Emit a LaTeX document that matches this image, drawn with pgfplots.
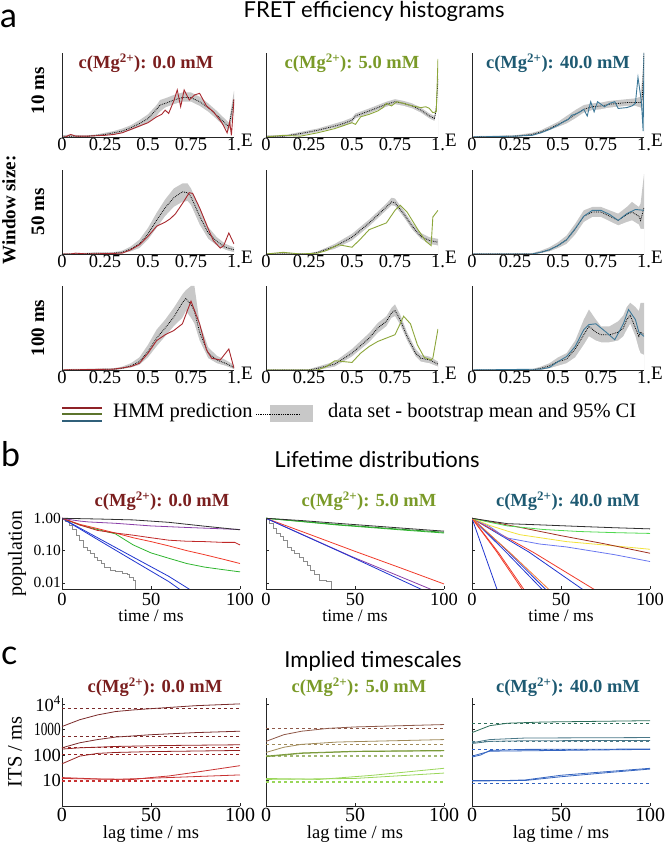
\documentclass[border=0pt]{standalone}
\usepackage{fontspec}
\setmainfont{Liberation Serif}
\newfontfamily\sansf{Lato}
\usepackage{graphicx}
\usepackage{pgfplots}
\pgfplotsset{compat=1.18}
\usepackage{pgfplotstable}

\definecolor{tRed}{HTML}{7A1E1E}
\definecolor{tGreen}{HTML}{7A9A28}
\definecolor{tBlue}{HTML}{1E5A72}
\definecolor{hRed}{HTML}{A8282E}
\definecolor{hGreen}{HTML}{8CA63A}
\definecolor{hBlue}{HTML}{3C7898}
\definecolor{bandgray}{HTML}{C8C8C8}
\definecolor{lBlack}{HTML}{303030}
\definecolor{lPurple}{HTML}{8A3FA8}
\definecolor{lDRed}{HTML}{C02828}
\definecolor{lRed}{HTML}{F03A2A}
\definecolor{lGreen}{HTML}{2FB52F}
\definecolor{lBlue}{HTML}{2035D0}
\definecolor{lGray}{HTML}{8C8C8C}
\definecolor{lYellow}{HTML}{F2E23A}
\definecolor{lPeri}{HTML}{6A78F0}
\definecolor{lOrange}{HTML}{F57A30}
\definecolor{lBrown}{HTML}{A03020}
\definecolor{lLGreen}{HTML}{50D850}
\definecolor{iDRed}{HTML}{7A2A2A}
\definecolor{iRed}{HTML}{C83232}
\definecolor{iBrown}{HTML}{8E5848}
\definecolor{iTan}{HTML}{A08A5A}
\definecolor{iOlive}{HTML}{7A9A3A}
\definecolor{iLGreen}{HTML}{9AD65A}
\definecolor{iTeal}{HTML}{2E6E5A}
\definecolor{iSlate}{HTML}{4A7888}
\definecolor{iBlue}{HTML}{3464C0}

\newcommand\tickfont{\fontsize{18.5}{20}\selectfont}
\newcommand\ttlfont{\fontsize{18.5}{20}\selectfont\bfseries}
\newcommand\secfont{\sansf\fontsize{22}{24}\selectfont}
\newcommand\letfont{\sansf\fontsize{34}{34}\selectfont}

% ---------- histogram data: bootstrap mean and 95% CI ----------
\pgfplotstableread{
E m lo hi
0 0.01 0 0.02
0.05 0.01 0 0.03
0.1 0.01 0 0.02
0.15 0.01 0 0.02
0.2 0.02 0.01 0.03
0.25 0.03 0.02 0.05
0.3 0.05 0.03 0.07
0.35 0.07 0.05 0.10
0.4 0.11 0.08 0.14
0.45 0.16 0.12 0.20
0.5 0.22 0.17 0.27
0.55 0.33 0.25 0.38
0.57 0.38 0.30 0.44
0.6 0.40 0.35 0.46
0.65 0.44 0.39 0.50
0.7 0.47 0.42 0.53
0.75 0.47 0.42 0.53
0.8 0.42 0.37 0.48
0.85 0.35 0.30 0.40
0.9 0.26 0.21 0.31
0.95 0.16 0.11 0.21
0.97 0.12 0.07 0.17
1.0 0.45 0.30 0.55
}\mAA
\pgfplotstableread{
E m lo hi
0 0.01 0 0.02
0.1 0.01 0 0.02
0.2 0.04 0.02 0.06
0.3 0.08 0.06 0.10
0.4 0.13 0.11 0.16
0.45 0.16 0.13 0.19
0.5 0.20 0.17 0.23
0.52 0.25 0.22 0.28
0.6 0.31 0.28 0.34
0.7 0.39 0.36 0.42
0.75 0.42 0.39 0.45
0.8 0.40 0.37 0.43
0.85 0.37 0.34 0.40
0.9 0.32 0.29 0.35
0.95 0.25 0.22 0.28
0.98 0.22 0.19 0.25
0.99 0.35 0.32 0.38
1.0 0.70 0.66 0.74
}\mAB
\pgfplotstableread{
E m lo hi
0 0 0 0.01
0.25 0.01 0 0.02
0.35 0.03 0.02 0.05
0.4 0.06 0.04 0.08
0.45 0.10 0.08 0.13
0.5 0.15 0.12 0.18
0.55 0.20 0.16 0.25
0.6 0.27 0.22 0.32
0.65 0.33 0.29 0.38
0.7 0.36 0.32 0.40
0.75 0.37 0.33 0.41
0.8 0.39 0.35 0.43
0.85 0.40 0.36 0.44
0.9 0.41 0.37 0.45
0.95 0.41 0.37 0.46
0.98 0.41 0.35 0.48
0.99 0.45 0.30 0.70
1.0 1.00 0.90 1.00
}\mAC
\pgfplotstableread{
E m lo hi
0 0 0 0.01
0.1 0 0 0.01
0.2 0.01 0 0.02
0.3 0.01 0 0.02
0.35 0.02 0.01 0.04
0.4 0.06 0.03 0.09
0.45 0.12 0.07 0.17
0.5 0.24 0.17 0.31
0.55 0.40 0.31 0.49
0.6 0.55 0.45 0.65
0.65 0.67 0.56 0.78
0.7 0.74 0.62 0.84
0.73 0.73 0.63 0.84
0.75 0.68 0.58 0.78
0.8 0.45 0.35 0.55
0.85 0.25 0.18 0.32
0.9 0.15 0.10 0.20
0.95 0.08 0.05 0.12
1.0 0.05 0.02 0.08
}\mBA
\pgfplotstableread{
E m lo hi
0 0 0 0.01
0.25 0 0 0.01
0.3 0.02 0.01 0.03
0.4 0.09 0.06 0.12
0.5 0.20 0.16 0.24
0.6 0.37 0.33 0.41
0.7 0.56 0.52 0.60
0.73 0.62 0.58 0.67
0.75 0.61 0.57 0.66
0.8 0.48 0.44 0.52
0.85 0.33 0.29 0.37
0.9 0.21 0.18 0.25
0.95 0.16 0.12 0.20
1.0 0.14 0.10 0.18
}\mBB
\pgfplotstableread{
E m lo hi
0 0 0 0.01
0.35 0 0 0.01
0.4 0.02 0.01 0.04
0.45 0.05 0.03 0.08
0.5 0.10 0.07 0.14
0.55 0.17 0.12 0.22
0.6 0.30 0.23 0.36
0.65 0.45 0.38 0.52
0.7 0.50 0.44 0.56
0.75 0.50 0.44 0.56
0.8 0.45 0.39 0.52
0.85 0.40 0.34 0.48
0.9 0.47 0.38 0.56
0.93 0.50 0.40 0.62
0.97 0.45 0.35 0.56
0.98 0.40 0.30 0.60
1.0 0.55 0.30 0.95
}\mBC
\pgfplotstableread{
E m lo hi
0 0 0 0.01
0.3 0.01 0 0.02
0.35 0.02 0.01 0.04
0.4 0.05 0.03 0.08
0.45 0.10 0.06 0.15
0.5 0.22 0.15 0.30
0.55 0.38 0.28 0.48
0.6 0.50 0.40 0.60
0.65 0.63 0.52 0.74
0.7 0.80 0.62 0.90
0.72 0.85 0.70 0.95
0.75 0.78 0.62 1.00
0.77 0.70 0.55 1.00
0.8 0.45 0.35 0.56
0.85 0.20 0.14 0.27
0.9 0.12 0.08 0.17
0.95 0.08 0.05 0.12
1.0 0.03 0.01 0.06
}\mCA
\pgfplotstableread{
E m lo hi
0 0 0 0.01
0.25 0 0 0.01
0.3 0.02 0 0.04
0.4 0.07 0.04 0.10
0.5 0.20 0.16 0.25
0.6 0.38 0.33 0.44
0.65 0.50 0.44 0.56
0.7 0.58 0.52 0.64
0.73 0.68 0.62 0.74
0.75 0.71 0.64 0.78
0.78 0.60 0.54 0.66
0.82 0.40 0.35 0.45
0.87 0.20 0.16 0.25
0.9 0.14 0.10 0.18
0.95 0.12 0.08 0.16
1.0 0.07 0.04 0.10
}\mCB
\pgfplotstableread{
E m lo hi
0 0 0 0.01
0.35 0 0 0.01
0.4 0.02 0 0.04
0.45 0.05 0.02 0.08
0.5 0.10 0.05 0.15
0.55 0.13 0.08 0.20
0.6 0.25 0.15 0.35
0.65 0.42 0.30 0.60
0.68 0.52 0.40 0.72
0.72 0.45 0.35 0.60
0.75 0.42 0.33 0.52
0.8 0.42 0.33 0.52
0.85 0.45 0.35 0.58
0.88 0.50 0.40 0.65
0.9 0.60 0.48 0.75
0.92 0.65 0.55 0.80
0.95 0.50 0.40 0.75
0.97 0.40 0.25 0.70
0.98 0.45 0.20 0.80
1.0 0.42 0.18 0.80
}\mCC

% ---------- HMM predictions ----------
\pgfplotstableread{
E y
0 0
0.02 0.0
0.05 0.03
0.08 0.01
0.15 0.01
0.25 0.02
0.3 0.03
0.35 0.05
0.4 0.09
0.45 0.13
0.5 0.17
0.55 0.24
0.58 0.27
0.6 0.32
0.62 0.28
0.65 0.43
0.67 0.56
0.69 0.36
0.71 0.56
0.74 0.44
0.77 0.50
0.8 0.52
0.84 0.37
0.88 0.30
0.93 0.17
0.96 0.05
0.975 0.18
0.985 0.02
1.0 0.45
}\hAA
\pgfplotstableread{
E y
0 0
0.05 0.01
0.1 0.02
0.2 0.01
0.3 0.05
0.4 0.10
0.5 0.17
0.52 0.15
0.55 0.24
0.6 0.27
0.65 0.31
0.68 0.35
0.7 0.40
0.73 0.37
0.76 0.42
0.8 0.40
0.85 0.37
0.9 0.35
0.93 0.36
0.95 0.34
0.97 0.29
0.99 0.30
1.0 0.93
}\hAB
\pgfplotstableread{
E y
0 0
0.25 0.01
0.35 0.02
0.4 0.05
0.45 0.09
0.5 0.14
0.53 0.18
0.56 0.21
0.58 0.26
0.6 0.27
0.63 0.30
0.65 0.33
0.67 0.25
0.69 0.42
0.71 0.30
0.73 0.42
0.77 0.36
0.8 0.40
0.83 0.42
0.85 0.34
0.9 0.35
0.93 0.37
0.95 0.40
0.965 0.71
0.985 0.42
0.995 0.07
1.0 1.0
}\hAC
\pgfplotstableread{
E y
0 0
0.05 0
0.08 0.01
0.15 0
0.35 0.01
0.4 0.05
0.45 0.11
0.5 0.21
0.55 0.33
0.6 0.38
0.63 0.42
0.66 0.48
0.7 0.60
0.74 0.73
0.76 0.72
0.8 0.55
0.85 0.30
0.88 0.16
0.92 0.07
0.94 0.10
0.97 0.25
1.0 0.12
}\hBA
\pgfplotstableread{
E y
0 0
0.05 0.01
0.1 0.02
0.2 0
0.3 0.01
0.35 0.04
0.42 0.11
0.45 0.10
0.5 0.08
0.55 0.18
0.6 0.29
0.65 0.33
0.7 0.37
0.75 0.52
0.78 0.58
0.82 0.50
0.88 0.30
0.93 0.15
0.96 0.10
0.97 0.44
1.0 0.52
}\hBB
\pgfplotstableread{
E y
0 0
0.35 0
0.4 0.02
0.45 0.05
0.5 0.10
0.55 0.17
0.6 0.30
0.65 0.45
0.7 0.52
0.75 0.52
0.8 0.47
0.85 0.40
0.9 0.48
0.95 0.53
1.0 0.52
}\hBC
\pgfplotstableread{
E y
0 0
0.3 0.01
0.4 0.04
0.45 0.08
0.5 0.20
0.55 0.35
0.6 0.42
0.65 0.47
0.7 0.55
0.75 0.82
0.8 0.55
0.84 0.24
0.87 0.14
0.92 0.12
0.97 0.25
1.0 0.02
}\hCA
\pgfplotstableread{
E y
0 0
0.3 0
0.35 0.04
0.4 0.11
0.45 0.10
0.5 0.09
0.55 0.20
0.6 0.28
0.65 0.34
0.7 0.38
0.75 0.42
0.78 0.55
0.8 0.64
0.84 0.55
0.88 0.30
0.92 0.15
0.96 0.12
0.97 0.14
1.0 0.49
}\hCB
\pgfplotstableread{
E y
0 0
0.4 0.01
0.45 0.03
0.5 0.10
0.55 0.16
0.6 0.28
0.65 0.48
0.68 0.54
0.72 0.55
0.78 0.45
0.83 0.36
0.88 0.55
0.91 0.72
0.95 0.60
0.97 0.45
1.0 0.40
}\hCC

\pgfplotsset{
  /pgf/number format/assume math mode=true,
  base/.style={scale only axis, axis x line*=bottom, axis y line*=left,
    axis line style={line width=0.6pt, black!85},
    every tick/.style={black!85, line width=0.5pt},
    tick label style={font=\tickfont}},
  histax/.style={base, axis on top, width=172pt, height=84pt, xmin=0, xmax=1, ymin=0, ymax=1,
    ytick=\empty, xtick={0,0.25,0.5,0.75,1},
    xticklabels={\textrm{0},\textrm{0.25},\textrm{0.5},\textrm{0.75},\textrm{1.}},
    major tick length=0pt,
    xticklabel style={inner sep=0pt, yshift=-1.5pt},
    xlabel={E}, xlabel style={at={(1,0)}, anchor=west,
      font=\fontsize{19}{20}\selectfont, xshift=6pt, yshift=-3pt, inner sep=1pt}},
  lifeax/.style={base, width=178pt, height=71pt, xmin=0, xmax=100,
    ymin=0.0065, ymax=1.02,
    xtick={0,50,100}, xticklabels={\textrm{0},\textrm{50},\textrm{100}},
    ytick={0.01,0.1,1}, yticklabels={},
    tick align=inside, major tick length=3pt,
    xticklabel style={inner sep=0pt, yshift=-4pt, font=\fontsize{18.5}{20}\selectfont},
    xlabel={time / ms}, xlabel style={font=\fontsize{17.5}{18}\selectfont, inner sep=0pt, yshift=-4.5pt}},
  itsax/.style={base, width=178pt, height=108pt, xmin=0, xmax=100,
    ymin=1, ymax=17000,
    xtick={0,50,100}, xticklabels={\textrm{0},\textrm{50},\textrm{100}},
    ytick={10,100,1000,10000}, yticklabels={},
    tick align=inside, major tick length=3pt,
    xticklabel style={inner sep=0pt, yshift=-2pt, font=\fontsize{20}{21}\selectfont},
    xlabel={lag time / ms}, xlabel style={font=\fontsize{18.5}{19}\selectfont, inner sep=0pt, yshift=-4pt}},
  hmm/.style={line width=0.9pt},
  lt/.style={line width=0.8pt},
}

% #1 position, #2 mean/CI table, #3 HMM table, #4 colour
\newcommand\hist[4]{%
\begin{axis}[histax, at={(#1)}, anchor=south west]
\addplot[fill=bandgray, draw=none] table[x=E, y=hi] {#2} \closedcycle;
\addplot[fill=white, draw=none] table[x=E, y=lo] {#2} \closedcycle;
\addplot[black, densely dotted, line width=0.8pt] table[x=E, y=m] {#2};
\addplot[#4, hmm] table[x=E, y=y] {#3};
\end{axis}}

\begin{document}
\begin{tikzpicture}[x=1pt, y=1pt]
\path[use as bounding box] (0,0) rectangle (666,846);

% section headers
\node[anchor=base west, inner sep=0pt, font=\letfont] at (0,818) {a};
\node[anchor=base, inner sep=0pt, font=\secfont] at (374,828) {FRET efficiency histograms};
\node[anchor=base west, inner sep=0pt, font=\letfont] at (1,379) {b};
\node[anchor=base, inner sep=0pt, font=\secfont] at (377,378) {Lifetime distributions};
\node[anchor=base west, inner sep=0pt, font=\letfont] at (1,181) {c};
\node[anchor=base, inner sep=0pt, font=\secfont] at (373,178) {Implied timescales};

% row labels
\node[rotate=90, font=\fontsize{19}{20}\selectfont\bfseries] at (9,636) {Window size:};
\node[rotate=90, font=\fontsize{19}{20}\selectfont\bfseries] at (38,755) {10 ms};
\node[rotate=90, font=\fontsize{19}{20}\selectfont\bfseries] at (38,634) {50 ms};
\node[rotate=90, font=\fontsize{19}{20}\selectfont\bfseries] at (38,518) {100 ms};

% ---------- a: histograms ----------
\hist{62pt,709pt}{\mAA}{\hAA}{hRed}
\hist{266pt,709pt}{\mAB}{\hAB}{hGreen}
\hist{472pt,709pt}{\mAC}{\hAC}{hBlue}
\hist{62pt,592pt}{\mBA}{\hBA}{hRed}
\hist{266pt,592pt}{\mBB}{\hBB}{hGreen}
\hist{472pt,592pt}{\mBC}{\hBC}{hBlue}
\hist{62pt,476pt}{\mCA}{\hCA}{hRed}
\hist{266pt,476pt}{\mCB}{\hCB}{hGreen}
\hist{472pt,476pt}{\mCC}{\hCC}{hBlue}

% panel titles
\foreach \yy/\xa/\xb/\xc in {777/146/352/558, 339/162/369/568, 153/155/359/568}{
  \node[anchor=base, inner sep=0pt, font=\ttlfont, text=tRed] at (\xa,\yy) {c(Mg\textsuperscript{2+}): 0.0 mM};
  \node[anchor=base, inner sep=0pt, font=\ttlfont, text=tGreen] at (\xb,\yy) {c(Mg\textsuperscript{2+}): 5.0 mM};
  \node[anchor=base, inner sep=0pt, font=\ttlfont, text=tBlue] at (\xc,\yy) {c(Mg\textsuperscript{2+}): 40.0 mM};
}

% legend
\draw[hRed!85!black, line width=1.8pt] (62,438) -- (102,438);
\draw[iOlive!75!black, line width=1.8pt] (62,432) -- (102,432);
\draw[hBlue!80!black, line width=1.8pt] (62,425) -- (102,425);
\node[anchor=west, inner sep=0pt, font=\fontsize{20.5}{21}\selectfont] at (113,433) {HMM prediction};
\fill[bandgray] (270,424) rectangle (313,441);
\draw[black, densely dotted, line width=0.8pt] (256,432) -- (300,432);
\node[anchor=west, inner sep=0pt, font=\fontsize{20.5}{21}\selectfont] at (328,433) {data set - bootstrap mean and 95\% CI};

% ---------- b: lifetime distributions ----------
\begin{axis}[lifeax, ymode=log, yminorticks=false, at={(62pt,257pt)}, anchor=south west,
  yticklabels={\textrm{0.01},\textrm{0.10},\textrm{1.00}}, yticklabel style={font=\fontsize{15.5}{16}\selectfont, inner sep=1pt},
  ylabel={population}, ylabel style={at={(-0.253,0.5)}, anchor=center, font=\fontsize{20}{21}\selectfont}]
\addplot[lGray, lt, const plot] coordinates {(0,1) (2,0.8) (4,0.6) (6,0.45) (8,0.3) (10,0.2) (12,0.13) (14,0.1) (16,0.08) (18,0.06) (20,0.05) (22,0.04) (24,0.03) (27,0.025) (30,0.022) (34,0.02) (37,0.019) (38,0.015) (40,0.012) (41,0.005)};
\addplot[lBlue, lt] coordinates {(0,1) (20,0.22) (40,0.049) (60,0.011) (70,0.0045)};
\addplot[lBlue, lt] coordinates {(0,1) (20,0.25) (40,0.063) (60,0.016) (76,0.0045)};
\addplot[lGreen, lt] coordinates {(0,1) (10,0.62) (20,0.45) (30,0.33) (40,0.15) (50,0.085) (60,0.058) (70,0.04) (80,0.031) (90,0.026) (100,0.022)};
\addplot[lRed, lt] coordinates {(0,1) (10,0.65) (20,0.48) (30,0.35) (40,0.25) (50,0.19) (60,0.14) (70,0.1) (80,0.075) (90,0.055) (100,0.04)};
\addplot[lDRed, lt] coordinates {(0,1) (5,0.8) (10,0.62) (20,0.42) (30,0.35) (40,0.3) (50,0.25) (60,0.21) (70,0.195) (80,0.19) (90,0.18) (97,0.18) (100,0.15)};
\addplot[lPurple, lt] coordinates {(0,1) (5,0.9) (10,0.82) (15,0.77) (30,0.7) (50,0.58) (70,0.52) (100,0.45)};
\addplot[lBlack, lt] coordinates {(0,1) (20,0.95) (40,0.89) (60,0.75) (80,0.57) (100,0.44)};
\end{axis}

\begin{axis}[lifeax, ymode=log, yminorticks=false, at={(266pt,257pt)}, anchor=south west]
\addplot[lGray, lt, const plot] coordinates {(0,1) (2,0.7) (4,0.5) (6,0.35) (8,0.27) (10,0.2) (12,0.13) (14,0.1) (16,0.08) (19,0.06) (21,0.045) (23,0.035) (25,0.025) (27,0.018) (30,0.012) (34,0.011) (36,0.011) (37,0.005)};
\addplot[lRed, lt] coordinates {(0,1) (25,0.31) (50,0.095) (75,0.03) (100,0.0093)};
\addplot[lPurple, lt] coordinates {(0,1) (48,0.066) (98,0.0048)};
\addplot[lBlue, lt] coordinates {(0,1) (45,0.076) (92,0.0048)};
\addplot[lGreen!80!black, lt] coordinates {(0,1) (20,0.8) (40,0.64) (60,0.53) (80,0.44) (100,0.37)};
\addplot[lGreen, lt] coordinates {(0,1) (20,0.79) (40,0.62) (60,0.51) (80,0.42) (100,0.35)};
\addplot[lBlack, lt] coordinates {(0,1) (20,0.85) (40,0.7) (60,0.58) (80,0.48) (100,0.4)};
\end{axis}

\begin{axis}[lifeax, ymode=log, yminorticks=false, at={(472pt,257pt)}, anchor=south west]
\addplot[lBlue, lt] coordinates {(0,1) (7,0.08) (15,0.0045)};
\addplot[lBlue, lt] coordinates {(0,1) (20,0.08) (42,0.0045)};
\addplot[lBlue, lt] coordinates {(0,1) (21,0.085) (44,0.0045)};
\addplot[lBlue, lt] coordinates {(0,1) (32,0.09) (66,0.0045)};
\addplot[lRed, lt] coordinates {(0,1) (15,0.085) (31,0.0045)};
\addplot[lRed, lt] coordinates {(0,1) (14,0.09) (30,0.0045)};
\addplot[lOrange, lt] coordinates {(0,1) (22,0.08) (46,0.0045)};
\addplot[lRed, lt] coordinates {(0,1) (35,0.085) (73,0.0045)};
\addplot[lPeri, lt] coordinates {(0,1) (10,0.55) (19,0.25) (38,0.16) (53,0.13) (80,0.075) (100,0.046)};
\addplot[lYellow, lt] coordinates {(0,1) (10,0.6) (20,0.4) (27,0.31) (53,0.19) (80,0.14) (100,0.11)};
\addplot[lBrown, lt] coordinates {(0,1) (25,0.55) (50,0.29) (75,0.16) (100,0.083)};
\addplot[lLGreen, lt] coordinates {(0,1) (10,0.75) (20,0.58) (40,0.45) (60,0.39) (80,0.36) (100,0.34)};
\addplot[lBlack, lt] coordinates {(0,1) (10,0.82) (20,0.68) (40,0.62) (60,0.56) (80,0.51) (100,0.47)};
\end{axis}

% ---------- c: implied timescales ----------
\begin{axis}[itsax, ymode=log, yminorticks=false, at={(62pt,40pt)}, anchor=south west,
  yticklabels={\textrm{10},\textrm{100},\scalebox{0.72}[1]{\textrm{1000}},\textrm{10\textsuperscript{4}}},
  yticklabel style={font=\fontsize{18.5}{20}\selectfont, inner sep=1pt},
  ylabel={ITS / ms}, ylabel style={at={(-0.264,0.5)}, anchor=center, font=\fontsize{20.5}{21}\selectfont}]
\addplot[iDRed, lt, dashed] coordinates {(0,6600) (100,6600)};
\addplot[iDRed, lt, dashed] coordinates {(0,520) (100,520)};
\addplot[iDRed!80!red, lt, dashed] coordinates {(0,200) (100,200)};
\addplot[iDRed!80!red, lt, dashed] coordinates {(0,108) (100,108)};
\addplot[iRed, lt, dashed] coordinates {(0,10.5) (100,10.5)};
\addplot[iRed, lt, dashed] coordinates {(0,9.5) (100,9.5)};
\addplot[iDRed, lt] coordinates {(0,1300) (10,2400) (20,3700) (30,5000) (40,5800) (50,6500) (75,8500) (100,10000)};
\addplot[iDRed, lt] coordinates {(0,190) (10,300) (20,400) (30,500) (50,620) (75,750) (100,850)};
\addplot[iDRed!80!red, lt] coordinates {(0,170) (10,190) (30,215) (60,235) (100,250)};
\addplot[iDRed!80!red, lt] coordinates {(0,45) (10,90) (20,115) (30,125) (50,135) (100,150)};
\addplot[iRed, lt] coordinates {(0,13) (20,11.5) (40,11) (50,13) (60,15) (75,21) (100,38)};
\addplot[iRed, lt] coordinates {(0,12) (30,11) (60,13) (100,16.5)};
\end{axis}

\begin{axis}[itsax, ymode=log, yminorticks=false, at={(266pt,40pt)}, anchor=south west]
\addplot[iBrown, lt, dashed] coordinates {(0,1070) (100,1070)};
\addplot[iTan, lt, dashed] coordinates {(0,270) (100,270)};
\addplot[iOlive!70!white, lt, dashed] coordinates {(0,93) (100,93)};
\addplot[iOlive!70!white, lt, dashed] coordinates {(0,85) (100,85)};
\addplot[iLGreen, lt, dashed] coordinates {(0,9) (100,9)};
\addplot[iLGreen, lt, dashed] coordinates {(0,8.3) (100,8.3)};
\addplot[iBrown, lt] coordinates {(0,340) (10,620) (20,850) (35,1100) (50,1250) (100,1550)};
\addplot[iTan, lt] coordinates {(0,125) (10,200) (20,260) (40,320) (100,400)};
\addplot[iOlive, lt] coordinates {(0,90) (20,120) (50,140) (100,150)};
\addplot[iOlive, lt] coordinates {(0,85) (20,115) (50,135) (100,145)};
\addplot[iLGreen, lt] coordinates {(0,12) (30,11) (60,16) (100,30)};
\addplot[iLGreen, lt] coordinates {(0,11) (50,12) (100,19.5)};
\end{axis}

\begin{axis}[itsax, ymode=log, yminorticks=false, at={(472pt,40pt)}, anchor=south west]
\addplot[iTeal, lt, dashed] coordinates {(0,1700) (100,1700)};
\addplot[iSlate, lt, dashed] coordinates {(0,350) (100,350)};
\addplot[iBlue, lt, dashed] coordinates {(0,160) (100,160)};
\addplot[iBlue, lt, dashed] coordinates {(0,7.4) (100,7.4)};
\addplot[iTeal, lt] coordinates {(0,750) (10,1400) (20,1750) (40,1950) (100,2200)};
\addplot[iSlate, lt] coordinates {(0,300) (10,400) (30,460) (100,480)};
\addplot[iSlate, lt] coordinates {(0,280) (10,340) (30,360) (100,370)};
\addplot[iBlue, lt] coordinates {(0,83) (5,100) (10,150) (30,165) (100,170)};
\addplot[iBlue, lt] coordinates {(0,90) (10,140) (100,165)};
\addplot[iBlue, lt] coordinates {(0,10) (20,10) (30,10.5) (50,16) (75,22) (100,30)};
\addplot[iBlue, lt] coordinates {(0,9.5) (30,10) (50,14) (75,20) (100,28)};
\end{axis}
\end{tikzpicture}
\end{document}
